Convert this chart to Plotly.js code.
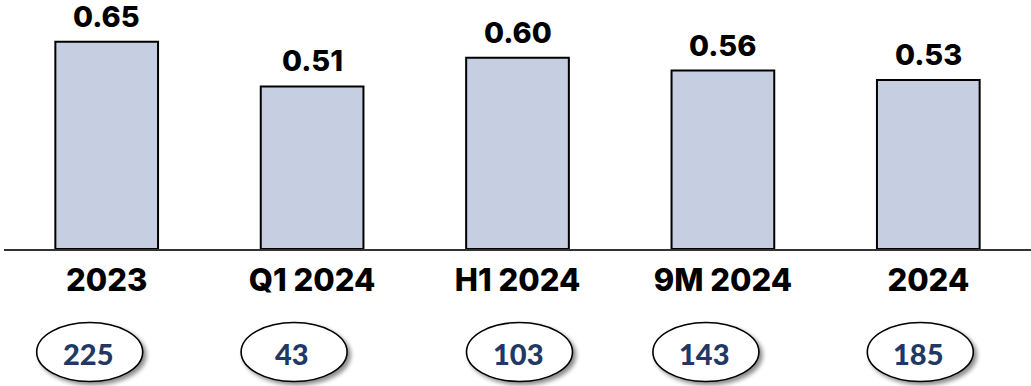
<!DOCTYPE html>
<html>
<head>
<meta charset="utf-8">
<script src="https://cdn.plot.ly/plotly-3.0.1.min.js"></script>
<style>
  html, body { margin: 0; padding: 0; background: #ffffff; }
  #chart { width: 1031px; height: 386px; }
  .shapelayer path { filter: drop-shadow(3px 3px 2px rgba(0,0,0,0.45)); }
</style>
</head>
<body>
<div id="chart"></div>
<script>
// Periods and the ratio reported for each
const periods = ['2023', 'Q1 2024', 'H1 2024', '9M 2024', '2024'];
const ratios = [0.65, 0.51, 0.60, 0.56, 0.53];
// Counts shown in the ovals beneath each period
const counts = [225, 43, 103, 143, 185];

// Horizontal nudge (px) of each oval from its bar centre
const ovalShift = [-17, -18, 2, -17, -8];
const ovalHalfW = 53, ovalHalfH = 29.5, ovalDrop = 103;

const idx = periods.map((_, i) => i);

const trace = {
  type: 'bar',
  x: idx,
  y: ratios,
  marker: { color: '#c5cfe1', line: { color: '#000000', width: 2 } },
  hoverinfo: 'skip'
};

// Ovals sit below the axis, so they are anchored on the paper (not clipped to the plot)
const shapes = idx.map(i => ({
  type: 'circle',
  xref: 'x', yref: 'paper',
  xsizemode: 'pixel', ysizemode: 'pixel',
  xanchor: i, yanchor: 0,
  x0: ovalShift[i] - ovalHalfW, x1: ovalShift[i] + ovalHalfW,
  y0: -ovalDrop - ovalHalfH, y1: -ovalDrop + ovalHalfH,
  fillcolor: '#ffffff',
  line: { color: '#000000', width: 1.6 },
  layer: 'above'
}));

// Value labels above each bar
const valueLabels = idx.map(i => ({
  x: i, y: ratios[i], xref: 'x', yref: 'y',
  text: ratios[i].toFixed(2),
  showarrow: false,
  xanchor: 'center', yanchor: 'bottom',
  yshift: 6,
  font: { family: 'Inter, sans-serif', size: 29, color: '#000000', weight: 800 }
}));

// Counts inside the ovals
const countLabels = idx.map(i => ({
  x: i, y: 0, xref: 'x', yref: 'paper',
  text: String(counts[i]),
  showarrow: false,
  xanchor: 'center', yanchor: 'middle',
  xshift: ovalShift[i] - 2, yshift: -ovalDrop - 1,
  font: { family: 'Lato, sans-serif', size: 29, color: '#1f3864', weight: 900 }
}));

const layout = {
  width: 1031, height: 386,
  margin: { l: 4, r: 0, t: 10, b: 137 },
  paper_bgcolor: '#ffffff', plot_bgcolor: '#ffffff',
  showlegend: false,
  bargap: 0.5,
  xaxis: {
    tickmode: 'array', tickvals: idx, ticktext: periods,
    range: [-0.5, 4.5],
    showline: true, linecolor: '#333333', linewidth: 1.5,
    showgrid: false, zeroline: false, ticks: '',
    ticklabelstandoff: 3,
    tickfont: { family: 'Inter, sans-serif', size: 31, color: '#000000', weight: 800 },
    fixedrange: true
  },
  yaxis: {
    range: [0, 0.75], visible: false, fixedrange: true
  },
  shapes: shapes,
  annotations: valueLabels.concat(countLabels)
};

Plotly.newPlot('chart', [trace], layout, { displayModeBar: false, staticPlot: true });
</script>
</body>
</html>
